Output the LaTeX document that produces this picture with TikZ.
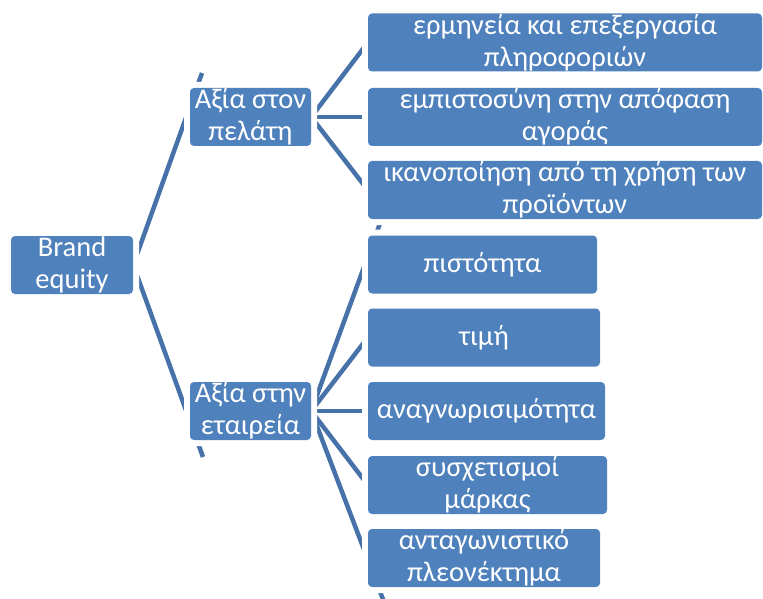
\documentclass[tikz,border=0pt]{standalone}
\usepackage{fontspec}
\setmainfont{Carlito}
\usetikzlibrary{backgrounds}
\definecolor{boxblue}{HTML}{4F81BD}
\definecolor{lineblue}{HTML}{4672A9}
\tikzset{box/.style={rectangle, rounded corners=4, fill=boxblue, text=white, align=center,
                     font=\fontsize{28.5}{32}\selectfont, inner sep=0pt, minimum height=58,
                     preaction={draw=white, line width=12}},
         link/.style={lineblue, line width=4.5}}

\begin{document}
\begin{tikzpicture}[x=1pt,y=-1pt]
   \useasboundingbox (0,0) rectangle (763,599);
   \node[box, minimum width=122] (brand) at (72,265) {Brand\\equity};
   \node[box, minimum width=121] (pelati) at (250.5,117) {Αξία στον\\πελάτη};
   \node[box, minimum width=121] (etaireia) at (250.5,411) {Αξία στην\\εταιρεία};
   \node[box, minimum width=394] (ermineia) at (565,42.5) {ερμηνεία και επεξεργασία\\πληροφοριών};
   \node[box, minimum width=394] (empistosyni) at (565,117) {εμπιστοσύνη στην απόφαση\\αγοράς};
   \node[box, minimum width=394] (ikanopoiisi) at (565,190) {ικανοποίηση από τη χρήση των\\προϊόντων};
   \node[box, minimum width=229] (pistotita) at (482.5,264.5) {πιστότητα};
   \node[box, minimum width=232] (timi) at (484,337.5) {τιμή};
   \node[box, minimum width=237] (anagnorisi) at (486.5,411) {αναγνωρισιμότητα};
   \node[box, minimum width=239] (sysxetismoi) at (487.5,485) {συσχετισμοί\\μάρκας};
   \node[box, minimum width=232] (antagonistiko) at (484,558) {ανταγωνιστικό\\πλεονέκτημα};
   \coordinate (pelatiend) at (202,73);
   \coordinate (etaireiaend) at (203,457);
   \coordinate (pistotitaend) at (382,218);
   \coordinate (antagonistikoend) at (384,602);
   \begin{scope}[on background layer]
    \draw[link] (brand.east) -- (pelatiend);
    \draw[link] (brand.east) -- (etaireiaend);
    \draw[link] (pelati.east) -- (ermineia.west);
    \draw[link] (pelati.east) -- (empistosyni.west);
    \draw[link] (pelati.east) -- (ikanopoiisi.west);
    \draw[link] (etaireia.east) -- (pistotitaend);
    \draw[link] (etaireia.east) -- (timi.west);
    \draw[link] (etaireia.east) -- (anagnorisi.west);
    \draw[link] (etaireia.east) -- (sysxetismoi.west);
    \draw[link] (etaireia.east) -- (antagonistikoend);
   \end{scope}
\end{tikzpicture}
\end{document}
